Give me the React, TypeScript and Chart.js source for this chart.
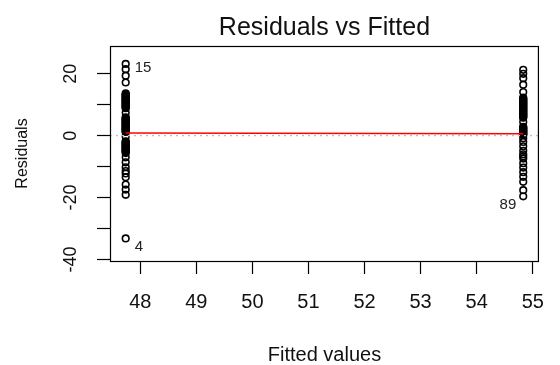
import React, { useEffect, useRef } from 'react';
import { Chart, registerables } from 'chart.js';

Chart.register(...registerables);

const FONT = '"Liberation Sans", Arial, Helvetica, sans-serif';

// Fitted values of the two groups
const fittedLow = 47.74;
const fittedHigh = 54.83;

// Residuals of the observations in each group
const residualsLow = [
  23.2, 21.5, 19.4, 17.2,
  13.7, 13.4, 13.2, 12.9, 12.7, 12.4, 12.1, 11.9, 11.6, 11.4, 11.2, 10.9, 10.6,
  10.4, 10.1, 9.9, 9.6, 9.4, 9.1, 8.9,
  7.4,
  5.9, 5.7, 5.4, 5.2, 4.9, 4.7, 4.4, 4.2, 3.9, 3.7, 3.4, 3.2, 2.9, 2.7, 2.4,
  2.2, 1.9, 1.7, 1.4, 1.2,
  -0.3,
  -1.8, -2.0, -2.3, -2.5, -2.8, -3.0, -3.3, -3.5, -3.8, -4.0, -4.3, -4.5, -4.8,
  -5.0, -5.3, -5.6,
  -7.0, -8.6, -10.2, -11.4, -12.2, -13.4, -15.8, -17.4, -19.1,
  -33.2,
];
const residualsHigh = [
  21.3, 20.0, 18.6, 16.5, 14.1,
  12.3, 12.0, 11.8, 11.5, 11.3, 11.0, 10.8, 10.5, 10.3, 10.0, 9.8, 9.5, 9.3, 9.0,
  8.8, 8.5, 8.3, 8.0, 7.8, 7.5, 7.3, 7.0, 6.8, 6.5, 6.3, 6.0, 5.8,
  4.4,
  2.9, 2.7, 2.4, 2.2, 1.9, 1.7, 1.4, 1.2, 0.9, 0.7, 0.4, 0.2,
  -0.8, -2.0, -3.4, -4.9, -6.0, -6.6, -7.4, -8.9, -10.3, -11.8, -13.3, -14.9, -17.6, -19.6,
];

// Smoother (red line)
const smoothFitted = [47.74, 54.83];
const smoothResiduals = [0.9, 0.6];

// Axes
const xRange = [47.46, 55.11];
const yRange = [-40.5, 29.0];
const xTicks = [48, 49, 50, 51, 52, 53, 54, 55];
const yTicks = [-40, -30, -20, -10, 0, 10, 20];
const yTickLabels = [-40, -20, 0, 20];

// Identified observations
const idLabels = ['15', '4', '89'];
const idFitted = [47.74, 47.74, 54.83];
const idResiduals = [23.2, -33.2, -19.6];

const TITLE = 'Residuals vs Fitted';

const decorPlugin = {
  id: 'decor',
  afterDatasetsDraw(chart: any) {
    const { ctx, chartArea, scales } = chart;
    const { left, right, top, bottom } = chartArea;
    ctx.save();
    // box
    ctx.strokeStyle = '#000';
    ctx.lineWidth = 1.2;
    ctx.strokeRect(left + 0.5, top + 0.5, right - left - 1, bottom - top);
    // id labels
    ctx.fillStyle = '#222';
    ctx.font = `15px ${FONT}`;
    ctx.textBaseline = 'middle';
    const mid = (xRange[0] + xRange[1]) / 2;
    idLabels.forEach((lab, i) => {
      const px = scales.x.getPixelForValue(idFitted[i]);
      const py = scales.y.getPixelForValue(idResiduals[i]);
      const rightSide = idFitted[i] > mid;
      const dy = i === 0 ? 4 : i === 1 ? 8 : 9;
      ctx.textAlign = rightSide ? 'right' : 'left';
      ctx.fillText(lab, px + (rightSide ? -7 : 9), py + dy);
    });
    // title
    ctx.fillStyle = '#111';
    ctx.font = `25px ${FONT}`;
    ctx.textAlign = 'center';
    ctx.textBaseline = 'alphabetic';
    ctx.fillText(TITLE, (left + right) / 2, 35);
    ctx.restore();
  },
};

export default function App() {
  const canvasRef = useRef<HTMLCanvasElement | null>(null);

  useEffect(() => {
    const canvas = canvasRef.current;
    if (!canvas) return;
    const pointsLow = residualsLow.map((r) => ({ x: fittedLow, y: r }));
    const pointsHigh = residualsHigh.map((r) => ({ x: fittedHigh, y: r }));
    const smooth = smoothFitted.map((f, i) => ({ x: f, y: smoothResiduals[i] }));
    const zeroLine = [
      { x: xRange[0], y: 0 },
      { x: xRange[1], y: 0 },
    ];
    const pointStyle = {
      pointStyle: 'circle',
      radius: 3.3,
      pointRadius: 3.3,
      borderWidth: 1.6,
      pointBorderWidth: 1.6,
      borderColor: '#000',
      pointBorderColor: '#000',
      backgroundColor: 'rgba(0,0,0,0)',
      pointBackgroundColor: 'rgba(0,0,0,0)',
      pointHoverRadius: 3.3,
    };
    const grid = {
      drawOnChartArea: false,
      drawTicks: true,
      tickLength: 13,
      color: '#000',
      tickColor: '#000',
      tickWidth: 1.2,
    };
    const chart = new Chart(canvas, {
      type: 'scatter',
      data: {
        datasets: [
          {
            type: 'line',
            label: 'zero',
            data: zeroLine,
            showLine: true,
            borderColor: '#bebebe',
            borderWidth: 1.2,
            borderDash: [2, 4],
            pointRadius: 0,
            order: 0,
          } as any,
          {
            type: 'line',
            label: 'smooth',
            data: smooth,
            showLine: true,
            borderColor: '#ff0000',
            borderWidth: 1.5,
            pointRadius: 0,
            order: 1,
          } as any,
          { label: 'low', data: pointsLow, ...pointStyle, order: 2 } as any,
          { label: 'high', data: pointsHigh, ...pointStyle, order: 2 } as any,
        ],
      },
      options: {
        animation: false,
        responsive: false,
        events: [],
        layout: { padding: { left: 0, top: 46, right: 8, bottom: 0 } },
        plugins: {
          legend: { display: false },
          tooltip: { enabled: false },
          title: { display: false },
        },
        scales: {
          x: {
            type: 'linear',
            position: 'bottom',
            min: xRange[0],
            max: xRange[1],
            afterBuildTicks: (s: any) => {
              s.ticks = xTicks.map((v) => ({ value: v }));
            },
            afterFit: (s: any) => {
              s.height = 104;
            },
            grid,
            border: { display: false },
            ticks: {
              font: { family: FONT, size: 20 },
              color: '#111',
              padding: 16,
              maxRotation: 0,
              autoSkip: false,
              callback: (v: any) => String(v),
            },
            title: {
              display: true,
              text: 'Fitted values',
              font: { family: FONT, size: 20, lineHeight: 1 },
              color: '#111',
              padding: 0,
            },
          },
          y: {
            type: 'linear',
            position: 'left',
            min: yRange[0],
            max: yRange[1],
            afterBuildTicks: (s: any) => {
              s.ticks = yTicks.map((v) => ({ value: v }));
            },
            afterFit: (s: any) => {
              s.width = 110;
            },
            grid,
            border: { display: false },
            ticks: {
              font: { family: FONT, size: 18 },
              color: '#111',
              minRotation: 90,
              maxRotation: 90,
              crossAlign: 'center',
              padding: 12.5,
              autoSkip: false,
              callback: (v: any) => (yTickLabels.includes(v) ? String(v) : ''),
            },
            title: {
              display: true,
              text: 'Residuals',
              font: { family: FONT, size: 16, lineHeight: 1.2 },
              color: '#111',
              padding: { top: 12.5, bottom: 0 },
            },
          },
        },
      } as any,
      plugins: [decorPlugin],
    });
    return () => chart.destroy();
  }, []);

  return (
    <div style={{ position: 'fixed', left: 0, top: 0, width: 560, height: 365, background: '#fff' }}>
      <canvas ref={canvasRef} width={560} height={365} style={{ width: 560, height: 365 }} />
    </div>
  );
}
